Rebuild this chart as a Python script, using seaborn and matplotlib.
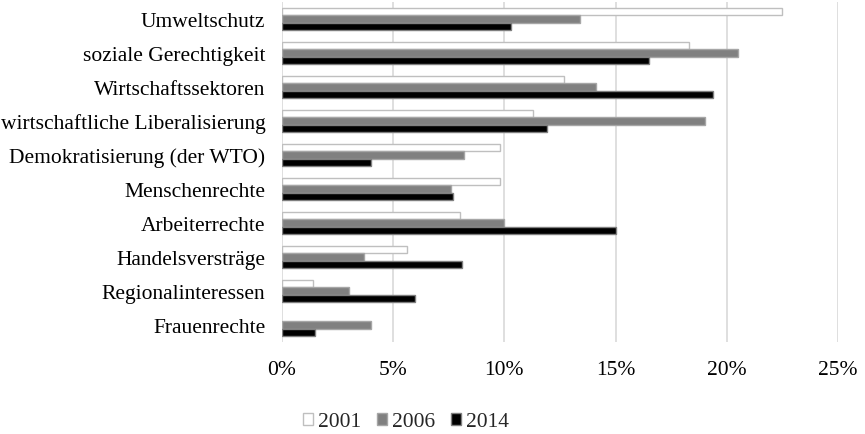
import matplotlib
matplotlib.use("Agg")
import matplotlib.pyplot as plt
import seaborn as sns
import pandas as pd
from matplotlib.ticker import FuncFormatter, MultipleLocator
from matplotlib.patches import Patch

categories = ["Umweltschutz", "soziale Gerechtigkeit", "Wirtschaftssektoren",
              "wirtschaftliche Liberalisierung", "Demokratisierung (der WTO)",
              "Menschenrechte", "Arbeiterrechte", "Handelsversträge",
              "Regionalinteressen", "Frauenrechte"]
years = ["2001", "2006", "2014"]
v2001 = [22.5, 18.3, 12.7, 11.3, 9.8, 9.8, 8.0, 5.6, 1.4, 0.0]
v2006 = [13.4, 20.5, 14.1, 19.0, 8.2, 7.6, 10.0, 3.7, 3.0, 4.0]
v2014 = [10.3, 16.5, 19.4, 11.9, 4.0, 7.7, 15.0, 8.1, 6.0, 1.5]

rows = []
for yr, vals in zip(years, [v2001, v2006, v2014]):
    for c, v in zip(categories, vals):
        rows.append({"Kategorie": c, "Jahr": yr, "Wert": v})
df = pd.DataFrame(rows)

sns.set_style("white")
plt.rcParams["font.family"] = ["Liberation Serif", "DejaVu Serif"]

fig = plt.figure(figsize=(8.65, 4.35), dpi=100)
ax = fig.add_axes([282/865, 1 - 343/435, (838-282)/865, 340/435])

fills = {"2001": "#ffffff", "2006": "#808080", "2014": "#000000"}
edges = {"2001": "#bfbfbf", "2006": "#a6a6a6", "2014": "#7f7f7f"}

sns.barplot(data=df, y="Kategorie", x="Wert", hue="Jahr", order=categories,
            hue_order=years, palette=fills, orient="h", width=0.66,
            ax=ax, zorder=3)

for cont, yr in zip(ax.containers, years):
    for bar in cont:
        bar.set_edgecolor(edges[yr])
        bar.set_linewidth(1.0)
        if bar.get_width() == 0:
            bar.set_visible(False)

ax.set_xlim(0, 25)
ax.xaxis.set_major_locator(MultipleLocator(5))
ax.xaxis.set_major_formatter(FuncFormatter(lambda v, p: f"{v:.0f}%"))
ax.grid(axis="x", color="#d9d9d9", linewidth=1.2, zorder=0)
ax.set_axisbelow(True)
for s in ax.spines.values():
    s.set_visible(False)
ax.set_xlabel("")
ax.set_ylabel("")
ax.tick_params(axis="both", length=0, labelsize=15.5, colors="#000000")
ax.tick_params(axis="x", pad=13)
ax.tick_params(axis="y", pad=12)

ax.legend_.remove()
handles = [Patch(facecolor=fills[yr], edgecolor=edges[yr], linewidth=1.0, label=yr)
           for yr in years]
fig.legend(handles=handles, loc="center", bbox_to_anchor=(406/865, 1 - 423/435),
           ncol=3, frameon=False, fontsize=15.5, handlelength=0.47, handleheight=0.47,
           handletextpad=0.23, columnspacing=0.75, borderpad=0.0, borderaxespad=0.0)

fig.savefig("out.png", dpi=100)
